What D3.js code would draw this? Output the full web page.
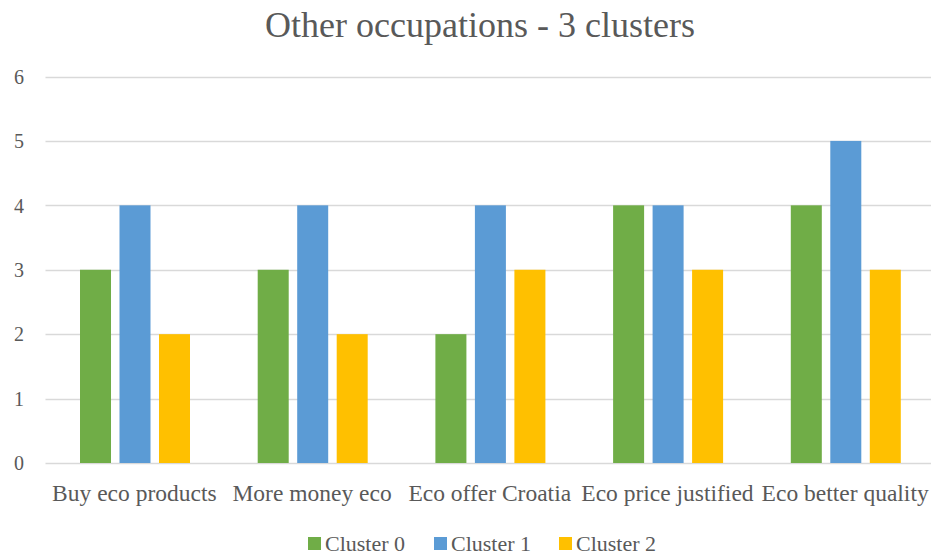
<!DOCTYPE html>
<html>
<head>
<meta charset="utf-8">
<script src="https://cdn.jsdelivr.net/npm/d3@7"></script>
<style>
  html, body { margin: 0; padding: 0; background: #ffffff; overflow: hidden; }
  svg { display: block; }
</style>
</head>
<body>
<svg id="chart" width="931" height="556"></svg>
<script>
const titleText = "Other occupations - 3 clusters";
const categories = ["Buy eco products", "More money eco", "Eco offer Croatia", "Eco price justified", "Eco better quality"];
const seriesNames = ["Cluster 0", "Cluster 1", "Cluster 2"];
const cluster0 = [3, 3, 2, 4, 4];
const cluster1 = [4, 4, 4, 4, 5];
const cluster2 = [2, 2, 3, 3, 3];
const seriesColors = ["#70AD47", "#5B9BD5", "#FFC000"];
const yTicks = [0, 1, 2, 3, 4, 5, 6];

const seriesValues = [cluster0, cluster1, cluster2];
const FONT = "'Liberation Serif', 'Times New Roman', Times, serif";
const TEXT_COLOR = "#595959";

const svg = d3.select("#chart");
const W = 931;
const plot = { left: 45.5, right: 934, top: 76.5, bottom: 463 };

const x = d3.scaleBand().domain(categories).range([plot.left, plot.right]).padding(0);
const xInner = d3.scaleBand().domain(seriesNames)
  .range([34.5, 144.5]).paddingInner(0.215).paddingOuter(0);
const y = d3.scaleLinear().domain([0, 6]).range([plot.bottom, plot.top]);

// Title
svg.append("text")
  .attr("x", 480).attr("y", 37)
  .attr("text-anchor", "middle")
  .style("font-family", FONT).style("font-size", "36px").style("fill", TEXT_COLOR)
  .text(titleText);

// Horizontal gridlines
svg.append("g").selectAll("line").data(yTicks).join("line")
  .attr("x1", plot.left).attr("x2", W)
  .attr("y1", d => Math.round(y(d)) + 0.5).attr("y2", d => Math.round(y(d)) + 0.5)
  .attr("stroke", "#D9D9D9").attr("stroke-width", 1.3);

// Y axis tick labels
const yAxis = d3.axisLeft(y).tickValues(yTicks).tickSize(0).tickPadding(0).tickFormat(d3.format("d"));
const yg = svg.append("g").attr("transform", "translate(24,0)").call(yAxis);
yg.select(".domain").remove();
yg.selectAll("text")
  .attr("dy", "0.34em")
  .style("font-family", FONT).style("font-size", "20px").style("fill", TEXT_COLOR);

// Bars
const groups = svg.append("g").selectAll("g").data(categories).join("g")
  .attr("transform", d => `translate(${x(d)},0)`);
groups.selectAll("rect")
  .data((c, i) => seriesNames.map((s, k) => ({ s, k, v: seriesValues[k][i] })))
  .join("rect")
  .attr("x", d => xInner(d.s))
  .attr("width", xInner.bandwidth())
  .attr("y", d => y(d.v))
  .attr("height", d => y(0) - y(d.v))
  .attr("fill", d => seriesColors[d.k]);

// Category labels
const xAxis = d3.axisBottom(x).tickSize(0).tickPadding(0);
const xg = svg.append("g").attr("transform", `translate(0,${plot.bottom})`).call(xAxis);
xg.select(".domain").remove();
xg.selectAll("text")
  .attr("dy", null).attr("y", 38)
  .style("font-family", FONT).style("font-size", "23.5px").style("fill", TEXT_COLOR);

// Legend
const legendX = [308, 434, 559];
const legend = svg.append("g").selectAll("g").data(seriesNames).join("g")
  .attr("transform", (d, i) => `translate(${legendX[i]},537)`);
legend.append("rect").attr("width", 13).attr("height", 13)
  .attr("fill", (d, i) => seriesColors[i]);
legend.append("text").attr("x", 17).attr("y", 14)
  .style("font-family", FONT).style("font-size", "22px").style("fill", TEXT_COLOR)
  .text(d => d);
</script>
</body>
</html>
